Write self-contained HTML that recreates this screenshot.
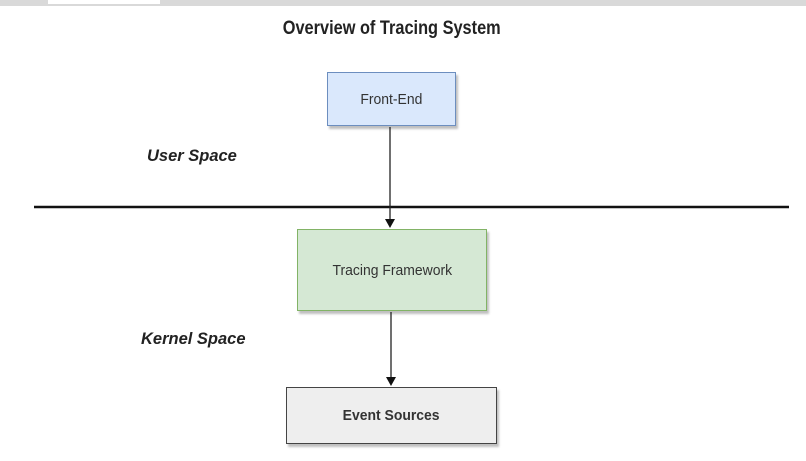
<!DOCTYPE html>
<html><head><style>
html,body{margin:0;padding:0;width:806px;height:461px;overflow:hidden;background:#fff;font-family:"Liberation Sans",sans-serif;position:relative}
.bar{position:absolute;left:0;top:0;width:806px;height:6px;background:#d9d9d9}
.tab{position:absolute;left:48px;top:0;width:112px;height:4px;background:#fff}
.t{position:absolute;white-space:nowrap;color:#222}
.box{position:absolute;box-sizing:border-box;display:flex;align-items:center;justify-content:center;font-size:15px;color:#333;box-shadow:2px 3px 2px rgba(0,0,0,0.25)}
.box span{display:inline-block;transform:scaleX(0.93)}
</style></head><body>
<div class="bar"></div><div class="tab"></div>
<div class="t" style="left:0;width:784px;text-align:center;top:18px;font-size:19px;font-weight:bold"><span style="display:inline-block;transform:scaleX(0.86)">Overview of Tracing System</span></div>
<div class="t" style="left:147px;top:146px;font-size:17px;font-weight:bold;font-style:italic"><span style="display:inline-block;transform:scaleX(0.97);transform-origin:left">User Space</span></div>
<div class="t" style="left:141px;top:329px;font-size:17px;font-weight:bold;font-style:italic"><span style="display:inline-block;transform:scaleX(0.97);transform-origin:left">Kernel Space</span></div>
<div class="box" style="left:327px;top:72px;width:129px;height:54px;background:#dae8fc;border:1.5px solid #6c8ebf"><span>Front-End</span></div>
<div class="box" style="left:297px;top:229px;width:190px;height:82px;background:#d5e8d4;border:1.5px solid #82b366"><span>Tracing Framework</span></div>
<div class="box" style="left:286px;top:387px;width:211px;height:57px;background:#eeeeee;border:1.5px solid #444;font-weight:bold"><span>Event Sources</span></div>
<svg width="806" height="461" style="position:absolute;left:0;top:0">
<line x1="34" y1="207" x2="789" y2="207" stroke="#111" stroke-width="2.5"/>
<line x1="390" y1="127" x2="390" y2="220" stroke="#222" stroke-width="1.3"/>
<polygon points="385,219 395,219 390,228" fill="#111"/>
<line x1="391" y1="312" x2="391" y2="378" stroke="#222" stroke-width="1.3"/>
<polygon points="386,377 396,377 391,386" fill="#111"/>
</svg>
</body></html>
